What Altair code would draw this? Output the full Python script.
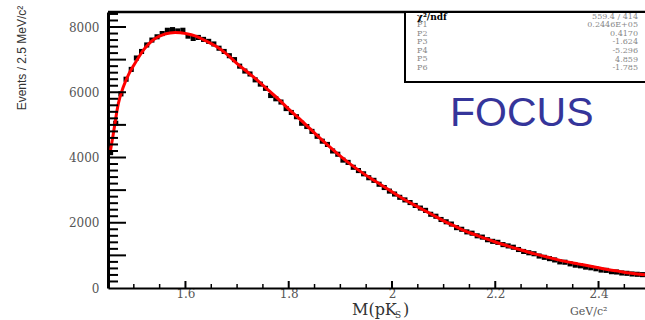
import altair as alt
import pandas as pd

# ---- data ----
mass = [1.455, 1.465, 1.475, 1.485, 1.495, 1.505, 1.515, 1.525, 1.535, 1.545,
        1.555, 1.565, 1.575, 1.585, 1.595, 1.605, 1.615, 1.625, 1.635, 1.645,
        1.655, 1.665, 1.675, 1.685, 1.695, 1.705, 1.715, 1.725, 1.735, 1.745,
        1.755, 1.765, 1.775, 1.785, 1.795, 1.805, 1.815, 1.825, 1.835, 1.845,
        1.855, 1.865, 1.875, 1.885, 1.895, 1.905, 1.915, 1.925, 1.935, 1.945,
        1.955, 1.965, 1.975, 1.985, 1.995, 2.005, 2.015, 2.025, 2.035, 2.045,
        2.055, 2.065, 2.075, 2.085, 2.095, 2.105, 2.115, 2.125, 2.135, 2.145,
        2.155, 2.165, 2.175, 2.185, 2.195, 2.205, 2.215, 2.225, 2.235, 2.245,
        2.255, 2.265, 2.275, 2.285, 2.295, 2.305, 2.315, 2.325, 2.335, 2.345,
        2.355, 2.365, 2.375, 2.385, 2.395, 2.405, 2.415, 2.425, 2.435, 2.445,
        2.455, 2.465, 2.475, 2.485]
events = [4150, 5050, 5950, 6400, 6700, 7050, 7250, 7450, 7600, 7700,
          7800, 7900, 7920, 7880, 7900, 7720, 7650, 7680, 7620, 7560,
          7480, 7350, 7250, 7120, 7000, 6800, 6650, 6560, 6380, 6250,
          6120, 5900, 5800, 5700, 5500, 5380, 5250, 5050, 4950, 4800,
          4650, 4500, 4400, 4200, 4100, 3920, 3850, 3700, 3600, 3500,
          3380, 3300, 3180, 3080, 2970, 2880, 2780, 2700, 2620, 2530,
          2450, 2380, 2260, 2200, 2100, 2030, 1960, 1850, 1800, 1720,
          1680, 1600, 1560, 1480, 1430, 1400, 1330, 1290, 1250, 1180,
          1120, 1080, 1050, 980, 940, 900, 860, 800, 790, 740,
          700, 680, 640, 620, 590, 550, 540, 500, 490, 460,
          450, 430, 420, 410]

fit_mass = [1.455, 1.46, 1.47, 1.48, 1.49, 1.50, 1.51, 1.52, 1.53, 1.54,
            1.55, 1.56, 1.57, 1.58, 1.59, 1.60, 1.62, 1.64, 1.66, 1.68,
            1.70, 1.72, 1.74, 1.76, 1.78, 1.80, 1.82, 1.84, 1.86, 1.88,
            1.90, 1.92, 1.94, 1.96, 1.98, 2.00, 2.02, 2.04, 2.06, 2.08,
            2.10, 2.12, 2.14, 2.16, 2.18, 2.20, 2.22, 2.24, 2.26, 2.28,
            2.30, 2.32, 2.34, 2.36, 2.38, 2.40, 2.42, 2.44, 2.46, 2.48, 2.49]
fit_events = [4230, 4700, 5650, 6180, 6550, 6830, 7090, 7320, 7500, 7630,
              7720, 7780, 7815, 7830, 7825, 7800, 7720, 7570, 7400, 7170,
              6880, 6620, 6360, 6070, 5790, 5480, 5200, 4900, 4600, 4320,
              4040, 3790, 3560, 3350, 3150, 2950, 2750, 2570, 2400, 2230,
              2060, 1910, 1760, 1640, 1520, 1410, 1310, 1210, 1120, 1030,
              950, 870, 800, 740, 680, 620, 560, 510, 460, 420, 405]

x_major = [1.6, 1.8, 2.0, 2.2, 2.4]
x_minor = [1.5, 1.55, 1.65, 1.7, 1.75, 1.85, 1.9, 1.95, 2.05, 2.1, 2.15,
           2.25, 2.3, 2.35, 2.45]
y_major = [1000, 2000, 3000, 4000, 5000, 6000, 7000, 8000]
y_minor = [200, 400, 600, 800, 1200, 1400, 1600, 1800, 2200, 2400, 2600, 2800,
           3200, 3400, 3600, 3800, 4200, 4400, 4600, 4800, 5200, 5400, 5600, 5800,
           6200, 6400, 6600, 6800, 7200, 7400, 7600, 7800, 8200, 8400]
y_labels = [0, 1000, 2000, 3000, 4000, 5000, 6000, 7000, 8000]

stat_labels = ["P1", "P2", "P3", "P4", "P5", "P6"]
stat_values = ["559.4  /  414", "0.2446E+05", "0.4170", "-1.624", "-5.296", "4.859", "-1.785"]

X0, X1 = 1.45, 2.49
Y1 = 8460
W, H = 537, 276
xscale = alt.Scale(domain=[X0, X1], nice=False, zero=False)
yscale = alt.Scale(domain=[0, Y1], nice=False, zero=False)

lab = dict(labelFont="DejaVu Serif", labelFontSize=12, labelColor="#555", labelOverlap=False,
           labelFlush=False, grid=False, ticks=False, domainColor="black", title=None)
xaxis = alt.Axis(values=x_major, format="~g", domainWidth=2, labelPadding=0, **lab)
yaxis = alt.Axis(values=y_labels, format="d", domainWidth=3, labelPadding=9, **lab)

pts = pd.DataFrame({"m": mass, "n": events})
fit = pd.DataFrame({"m": fit_mass, "n": fit_events})
one = pd.DataFrame({"k": [0]})

points = alt.Chart(pts).mark_square(color="black", size=26, opacity=1).encode(
    x=alt.X("m:Q", scale=xscale, axis=xaxis),
    y=alt.Y("n:Q", scale=yscale, axis=yaxis))
curve = alt.Chart(fit).mark_line(color="#ff0000", strokeWidth=3, interpolate="monotone").encode(
    x=alt.X("m:Q", scale=xscale),
    y=alt.Y("n:Q", scale=yscale))

# inside ticks on the y axis and the x axis, and the top frame line
ytick_major = alt.Chart(pd.DataFrame({"v": y_major})).mark_rule(color="#000000", strokeWidth=2).encode(
    y=alt.Y("v:Q", scale=yscale), x=alt.value(0), x2=alt.value(18))
ytick_minor = alt.Chart(pd.DataFrame({"v": y_minor})).mark_rule(color="#000000", strokeWidth=2).encode(
    y=alt.Y("v:Q", scale=yscale), x=alt.value(0), x2=alt.value(10))
xtick_major = alt.Chart(pd.DataFrame({"v": x_major})).mark_rule(color="#000000", strokeWidth=2).encode(
    x=alt.X("v:Q", scale=xscale), y=alt.value(H), y2=alt.value(H - 7))
xtick_minor = alt.Chart(pd.DataFrame({"v": x_minor})).mark_rule(color="#000000", strokeWidth=1.5).encode(
    x=alt.X("v:Q", scale=xscale), y=alt.value(H), y2=alt.value(H - 4))
top_line = alt.Chart(pd.DataFrame({"v": [Y1]})).mark_rule(color="#000000", strokeWidth=2.5).encode(
    y=alt.Y("v:Q", scale=yscale), x=alt.value(0), x2=alt.value(W))

box = alt.Chart(one).mark_rect(fill="white", stroke="black", strokeWidth=2).encode(
    x=alt.value(297), x2=alt.value(W + 20), y=alt.value(0), y2=alt.value(70))
chi = alt.Chart(one).mark_text(text="χ²/ndf", font="DejaVu Serif", fontSize=9, fontWeight="bold",
                               color="black", align="left", baseline="middle").encode(
    x=alt.value(309), y=alt.value(4.5))
labs = alt.Chart(one).mark_text(text=stat_labels, font="DejaVu Serif", fontSize=8, color="#888",
                                align="left", baseline="top", lineHeight=8.6).encode(
    x=alt.value(309), y=alt.value(9))
vals = alt.Chart(one).mark_text(text=stat_values, font="DejaVu Serif", fontSize=8, color="#888",
                                align="right", baseline="top", lineHeight=8.6).encode(
    x=alt.value(530), y=alt.value(0.5))

focus = alt.Chart(one).mark_text(text="FOCUS", font="Liberation Sans", fontSize=41, color="#35359a",
                                 align="left", baseline="alphabetic").encode(
    x=alt.value(342), y=alt.value(114))

ytitle = alt.Chart(one).mark_text(text="Events / 2.5 MeV/c²", font="Liberation Sans Narrow, Liberation Sans",
                                  fontSize=12, color="#333", angle=270, align="center",
                                  baseline="middle").encode(
    x=alt.value(-86), y=alt.value(46))

xt1 = alt.Chart(one).mark_text(text="M(pK", font="DejaVu Serif", fontSize=16, color="#333",
                               align="left", baseline="alphabetic").encode(
    x=alt.value(244), y=alt.value(303))
xt2 = alt.Chart(one).mark_text(text="S", font="DejaVu Serif", fontSize=9, color="#333",
                               align="left", baseline="alphabetic").encode(
    x=alt.value(287), y=alt.value(306))
xt3 = alt.Chart(one).mark_text(text=")", font="DejaVu Serif", fontSize=16, color="#333",
                               align="left", baseline="alphabetic").encode(
    x=alt.value(295), y=alt.value(303))
unit = alt.Chart(one).mark_text(text="GeV/c²", font="DejaVu Serif", fontSize=11, color="#555",
                                align="left", baseline="alphabetic").encode(
    x=alt.value(462), y=alt.value(303))

chart = alt.layer(
    points, curve, ytick_minor, ytick_major, xtick_minor, xtick_major, top_line,
    box, chi, labs, vals, focus, ytitle, xt1, xt2, xt3, unit
).properties(
    width=W, height=H,
    autosize=alt.AutoSizeParams(type="none"),
    padding={"left": 108, "top": 12, "right": 0, "bottom": 32},
).configure_view(stroke=None)

chart.save("out.html", embed_options={"renderer": "svg", "actions": False})
